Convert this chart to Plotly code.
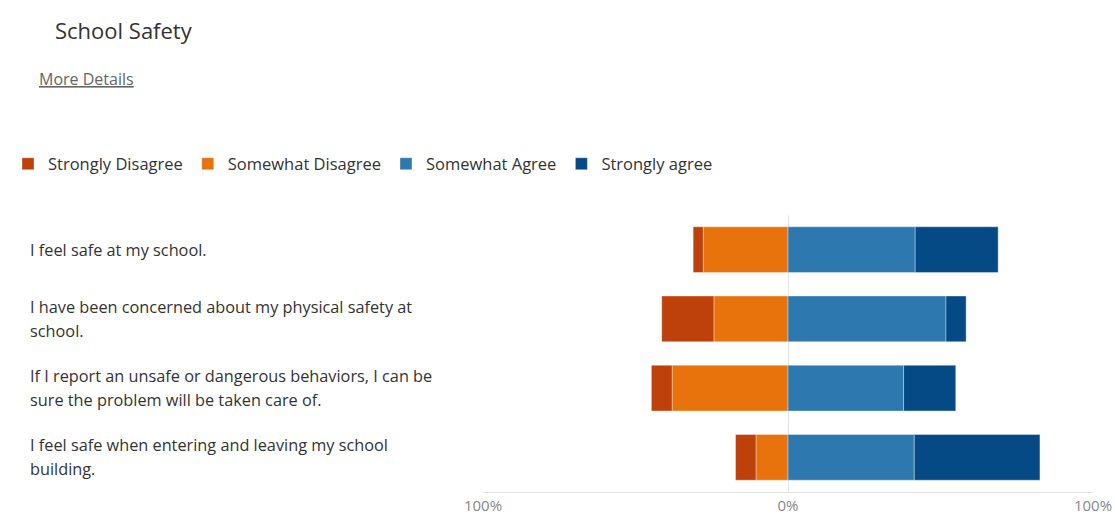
import textwrap
import plotly.graph_objects as go

questions = [
    "I feel safe at my school.",
    "I have been concerned about my physical safety at school.",
    "If I report an unsafe or dangerous behaviors, I can be sure the problem will be taken care of.",
    "I feel safe when entering and leaving my school building.",
]
strongly_disagree = [3.3, 17.1, 6.8, 6.7]
somewhat_disagree = [27.8, 24.3, 38.0, 10.5]
somewhat_agree = [41.7, 51.8, 37.9, 41.4]
strongly_agree = [27.2, 6.6, 17.1, 41.2]

tick_vals = [-100, 0, 100]
tick_text = ["100%", "0%", "100%"]

C_SD = "#be410b"
C_SOD = "#e8720c"
C_SA = "#2e78b0"
C_STA = "#054a84"

FONT = "Open Sans, Noto Sans, sans-serif"

# plot-area geometry (px)
L, R, T, B = 483, 22, 215, 23
PW = 1115 - L - R
PH = 515 - T - B

fig = go.Figure()
bar_line = dict(width=0.6, color="rgba(255,255,255,0.6)")
# negative stacks build outward from zero in trace order
fig.add_trace(go.Bar(y=questions, x=[-v for v in somewhat_disagree], name="Somewhat Disagree",
                     orientation="h", marker=dict(color=C_SOD, line=bar_line), legendrank=2,
                     width=0.66))
fig.add_trace(go.Bar(y=questions, x=[-v for v in strongly_disagree], name="Strongly Disagree",
                     orientation="h", marker=dict(color=C_SD, line=bar_line), legendrank=1,
                     width=0.66))
fig.add_trace(go.Bar(y=questions, x=somewhat_agree, name="Somewhat Agree",
                     orientation="h", marker=dict(color=C_SA, line=bar_line), legendrank=3,
                     width=0.66))
fig.add_trace(go.Bar(y=questions, x=strongly_agree, name="Strongly agree",
                     orientation="h", marker=dict(color=C_STA, line=bar_line), legendrank=4,
                     width=0.66))

annotations = []
for q in questions:
    lines = textwrap.wrap(q, width=54)
    n = len(lines)
    for i, line in enumerate(lines):
        shift = (-(i - (n - 1) / 2)) * 24
        annotations.append(dict(
            text=line, xref="paper", yref="y", x=(28 - L) / PW, y=q, yshift=shift,
            xanchor="left", yanchor="middle", showarrow=False, align="left",
            font=dict(family=FONT, size=16.3, color="#333333"),
        ))

annotations.append(dict(
    text="<u>More Details</u>", xref="paper", yref="paper",
    x=(37 - L) / PW, y=1 + (T - 79) / PH, xanchor="left", yanchor="middle",
    showarrow=False, font=dict(family=FONT, size=16, color="#666666"),
))

fig.update_layout(
    width=1115, height=515,
    margin=dict(l=L, r=R, t=T, b=B, autoexpand=False),
    paper_bgcolor="white", plot_bgcolor="white",
    barmode="relative",
    title=dict(text="School Safety", x=55 / 1115, xanchor="left", xref="container",
               y=1 - 31 / 515, yanchor="middle", yref="container",
               font=dict(family=FONT, size=22, color="#333333")),
    legend=dict(orientation="h", xref="paper", yref="paper",
                x=(8 - L) / PW, y=1 + (T - 164) / PH, xanchor="left", yanchor="middle",
                font=dict(family=FONT, size=16.5, color="#333333"),
                traceorder="normal", itemclick=False),
    xaxis=dict(range=[-100, 100], tickvals=tick_vals, ticktext=tick_text,
               showgrid=True, gridcolor="#e3e3e3", gridwidth=1,
               zeroline=False, showline=True, linecolor="#e3e3e3", linewidth=1,
               ticks="", tickfont=dict(family=FONT, size=15, color="#888888"),
               fixedrange=True, automargin=False),
    yaxis=dict(categoryorder="array", categoryarray=questions, autorange="reversed",
               showticklabels=False, showgrid=False, zeroline=False, automargin=False),
    annotations=annotations,
    showlegend=True,
)

fig.write_html("out.html")
